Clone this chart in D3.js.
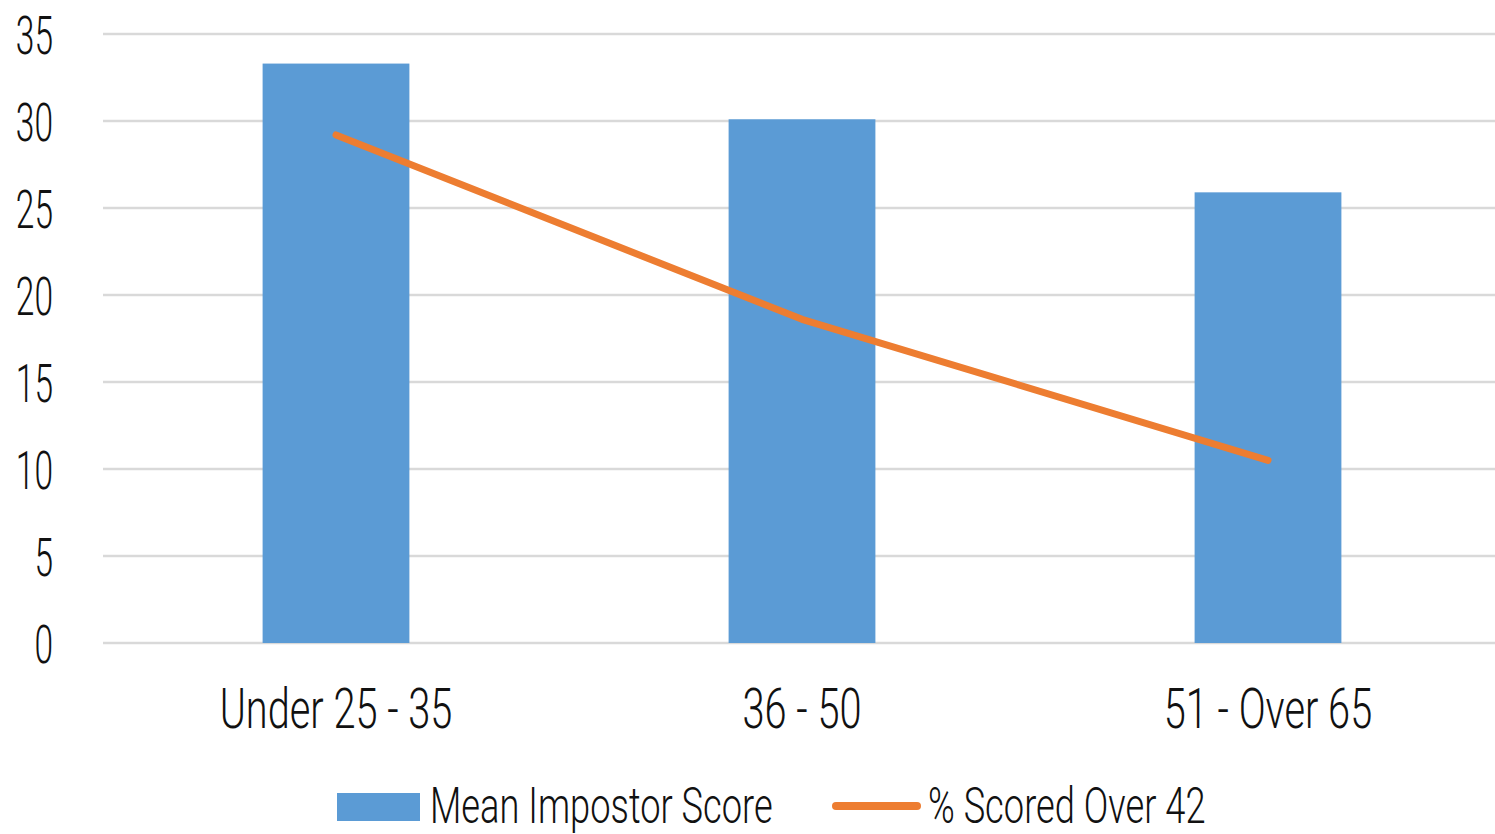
<!DOCTYPE html>
<html>
<head>
<meta charset="utf-8">
<script src="https://cdn.jsdelivr.net/npm/d3@7"></script>
<style>
  html, body { margin: 0; padding: 0; background: #fff; }
  svg text { font-family: "Roboto", "Liberation Sans Narrow", sans-serif; font-weight: 300; fill: #111; }
</style>
</head>
<body>
<svg id="chart" width="1495" height="834"></svg>
<script>
// Age groups and their values
const categories = ["Under 25 - 35", "36 - 50", "51 - Over 65"];
const meanImpostorScore = [33.3, 30.1, 25.9];
const pctScoredOver42 = [29.2, 18.6, 10.5];
const yTicks = [0, 5, 10, 15, 20, 25, 30, 35];
const seriesNames = ["Mean Impostor Score", "% Scored Over 42"];

const barColor = "#5b9bd5";
const lineColor = "#ed7d31";
const gridColor = "#d9d9d9";

const svg = d3.select("#chart");

const y = d3.scaleLinear().domain([0, 35]).range([643, 34]);
const x = d3.scaleBand().domain(categories).range([103, 1501])
  .paddingInner(0.685).paddingOuter(0.3425);

// Narrow-set labels: compress the rendered text horizontally
function squeeze(sel, k) {
  sel.each(function () {
    const w = this.getComputedTextLength();
    d3.select(this).attr("textLength", w * k).attr("lengthAdjust", "spacingAndGlyphs");
  });
}

// Horizontal gridlines
svg.append("g").selectAll("line").data(yTicks).join("line")
  .attr("x1", 103).attr("x2", 1501)
  .attr("y1", d => y(d)).attr("y2", d => y(d))
  .attr("stroke", gridColor).attr("stroke-width", 2.5);

// Y axis labels
const yAxis = svg.append("g").attr("transform", "translate(53,0)")
  .call(d3.axisLeft(y).tickValues(yTicks).tickSize(0).tickPadding(0));
yAxis.select(".domain").remove();
yAxis.selectAll("text").attr("font-size", 54).attr("dy", "0.36em").attr("fill", "#111")
  .call(squeeze, 0.62);

// Bars
svg.append("g").selectAll("rect").data(categories).join("rect")
  .attr("x", d => x(d)).attr("width", x.bandwidth())
  .attr("y", (d, i) => y(meanImpostorScore[i]))
  .attr("height", (d, i) => y(0) - y(meanImpostorScore[i]))
  .attr("fill", barColor);

// Line series
const cx = d => x(d) + x.bandwidth() / 2;
svg.append("path")
  .datum(categories)
  .attr("d", d3.line().x(d => cx(d)).y((d, i) => y(pctScoredOver42[i])))
  .attr("fill", "none").attr("stroke", lineColor)
  .attr("stroke-width", 7).attr("stroke-linecap", "round").attr("stroke-linejoin", "round");

// X axis labels
const xAxis = svg.append("g").attr("transform", "translate(0,643)")
  .call(d3.axisBottom(x).tickSize(0).tickPadding(0));
xAxis.select(".domain").remove();
xAxis.selectAll("text").attr("font-size", 56).attr("dy", null).attr("y", 85).attr("fill", "#111")
  .call(squeeze, 0.71);

// Legend
const legend = svg.append("g");
legend.append("rect").attr("x", 337).attr("y", 793).attr("width", 83).attr("height", 28).attr("fill", barColor);
legend.append("line").attr("x1", 836).attr("x2", 917).attr("y1", 806).attr("y2", 806)
  .attr("stroke", lineColor).attr("stroke-width", 8).attr("stroke-linecap", "round");
legend.selectAll("text").data(seriesNames).join("text")
  .attr("x", (d, i) => [430, 928][i]).attr("y", 823).attr("font-size", 50)
  .text(d => d)
  .call(squeeze, 0.725);
</script>
</body>
</html>
